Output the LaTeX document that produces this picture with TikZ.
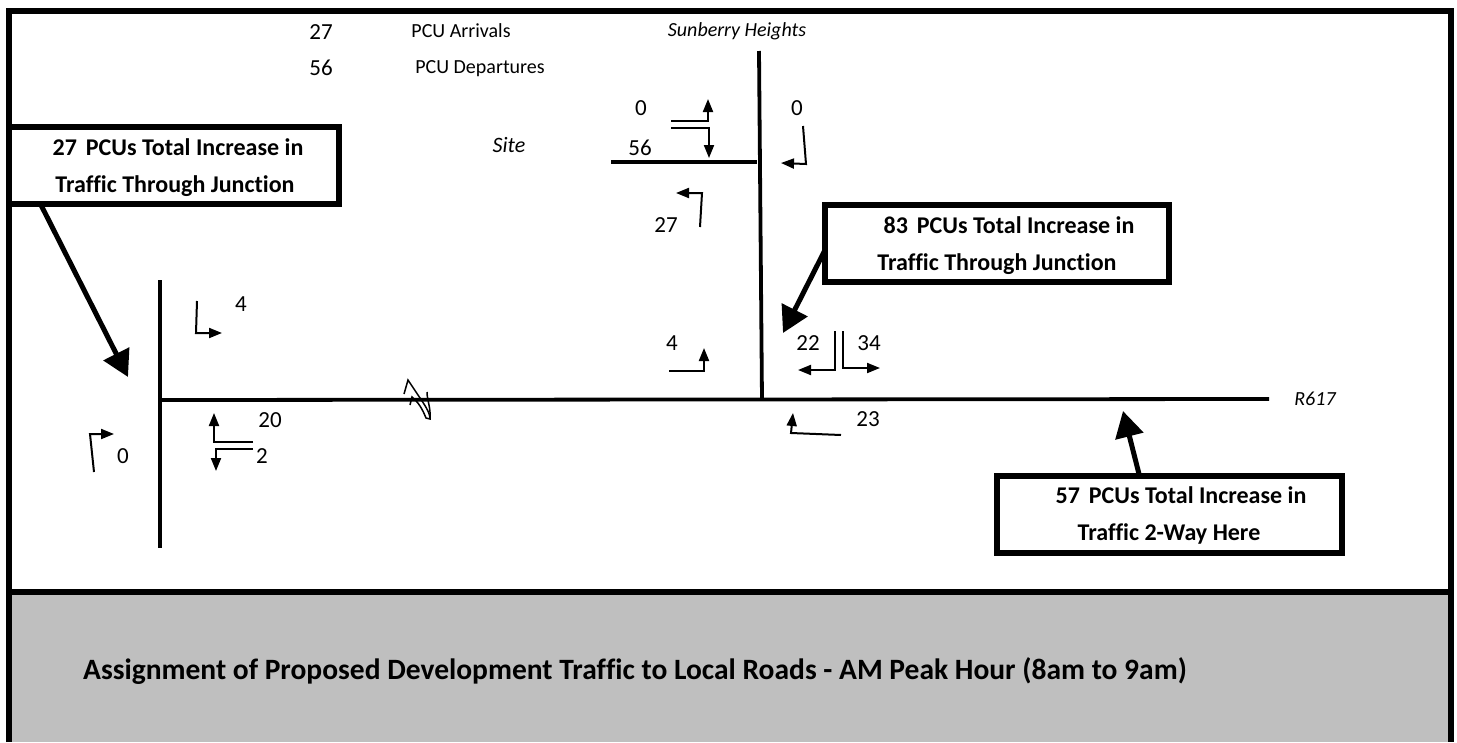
\documentclass[tikz,border=0pt]{standalone}
\usepackage{fontspec}
\setmainfont[RawFeature={-liga;-clig;-dlig}]{Carlito}
\usetikzlibrary{arrows.meta}
\definecolor{panel}{RGB}{191,191,191}
\newcommand{\gp}{\hskip 9pt\relax}
\tikzset{
  x=1pt,y=-1pt,
  road/.style={line width=3.8pt,line cap=butt},
  tick/.style={line width=2pt,-{Triangle[length=13pt,width=10pt]}},
  callout/.style={line width=5pt,-{Triangle[length=26pt,width=28pt]}},
  lab/.style={font=\fontsize{20}{22}\selectfont,inner sep=0pt},
  num/.style={font=\fontsize{23}{25}\selectfont,inner sep=0pt},
  ital/.style={lab,font=\fontsize{20}{22}\itshape\selectfont},
  boxtxt/.style={inner sep=0pt,font=\fontsize{24}{26}\bfseries\selectfont,anchor=center},
  boxs/.style={draw,line width=6pt,fill=white},
}
\begin{document}
\begin{tikzpicture}
\useasboundingbox (0,0) rectangle (1457,742);
\fill[white] (0,0) rectangle (1457,742);
\fill[panel] (9,592) rectangle (1451,742);
\draw[line width=6pt] (9,592) -- (1451,592);
\draw[line width=6pt] (9,742) -- (9,11) -- (1451,11) -- (1451,742);
\node[boxtxt,font=\fontsize{29.5}{32}\bfseries\selectfont] (title) at (635,671) {Assignment of Proposed Development Traffic to Local Roads - AM Peak Hour (8am to 9am)};
% legend
\node[num] (l1) at (321,32) {27};
\node[lab] (l2) at (461,31) {PCU Arrivals};
\node[ital] (sh) at (737,31) {Sunberry Heights};
\node[num] (l3) at (321,68) {56};
\node[lab] (l4) at (480,69) {PCU Departures};
\node[ital,font=\fontsize{22}{24}\itshape\selectfont] (site) at (509,145) {Site};
\node[ital] (r) at (1315,399) {R617};
% roads
\draw[road] (759,51) -- (762,400);
\draw[road] (611,162) -- (757,162);
\draw[road] (159,400) -- (1269,399);
\draw[road] (160,280) -- (160,548);
% squiggle
\draw[line width=1.5pt] (404,394) -- (408,380) -- (418,395) .. controls (424,404) and (430,412) .. (430,419) -- (426,418) .. controls (422,408) and (418,402) .. (412,397) -- (410,405);
\draw[line width=1.5pt] (427,392) .. controls (427,400) and (431,408) .. (430,419);
% top junction arrows
\node[num] (n0a) at (641,108) {0};
\node[num] (n56) at (640,148) {56};
\coordinate (a1) at (671,121); \coordinate (a1b) at (708,121); \coordinate (a1t) at (708,99);
\draw[tick] (a1) -- (a1b) -- (a1t);
\coordinate (a2) at (671,128); \coordinate (a2b) at (709,128); \coordinate (a2t) at (709,158);
\draw[tick] (a2) -- (a2b) -- (a2t);
\node[num] (n0b) at (797,108) {0};
\coordinate (a3) at (803,126); \coordinate (a3b) at (806,164); \coordinate (a3t) at (781,163);
\draw[tick] (a3) -- (a3b) -- (a3t);
\node[num] (n27) at (666,225) {27};
\coordinate (a4) at (700,227); \coordinate (a4b) at (702,193); \coordinate (a4t) at (676,193);
\draw[tick] (a4) -- (a4b) -- (a4t);
% lower junction
\node[num] (n4c) at (672,343) {4};
\coordinate (a5) at (669,371); \coordinate (a5b) at (704,371); \coordinate (a5t) at (704,348);
\draw[tick] (a5) -- (a5b) -- (a5t);
\node[num] (n22) at (808,343) {22};
\coordinate (a6) at (835,331); \coordinate (a6b) at (835,370); \coordinate (a6t) at (798,370);
\draw[tick] (a6) -- (a6b) -- (a6t);
\node[num] (n34) at (869,343) {34};
\coordinate (a7) at (843,331); \coordinate (a7b) at (843,368); \coordinate (a7t) at (880,368);
\draw[tick] (a7) -- (a7b) -- (a7t);
\node[num] (n23) at (868,419) {23};
\coordinate (a8) at (841,435); \coordinate (a8b) at (791,433); \coordinate (a8t) at (793,413);
\draw[tick] (a8) -- (a8b) -- (a8t);
% left junction
\node[num] (n4a) at (241,304) {4};
\coordinate (a9) at (197,301); \coordinate (a9b) at (196,333); \coordinate (a9t) at (222,333);
\draw[tick] (a9) -- (a9b) -- (a9t);
\node[num] (n0c) at (123,456) {0};
\coordinate (a10) at (94,472); \coordinate (a10b) at (90,434); \coordinate (a10t) at (114,434);
\draw[tick] (a10) -- (a10b) -- (a10t);
\node[num] (n20) at (270,420) {20};
\coordinate (a11) at (253,442); \coordinate (a11b) at (214,442); \coordinate (a11t) at (214,413);
\draw[tick] (a11) -- (a11b) -- (a11t);
\node[num] (n2) at (262,456) {2};
\coordinate (a12) at (253,449); \coordinate (a12b) at (216,449); \coordinate (a12t) at (216,471);
\draw[tick] (a12) -- (a12b) -- (a12t);
% callouts
\coordinate (c1) at (128,377); \coordinate (c1s) at (40,203);
\draw[callout] (c1s) -- (c1);
\coordinate (c2) at (783,333); \coordinate (c2s) at (825,250);
\draw[callout] (c2s) -- (c2);
\coordinate (c3) at (1123,411); \coordinate (c3s) at (1139,474);
\draw[callout] (c3s) -- (c3);
\path[boxs] (9,127) rectangle (339,204);
\path[boxs] (825,205) rectangle (1169,282);
\path[boxs] (997,476) rectangle (1342,553);
\node[boxtxt] (b1a) at (178,147) {27\gp PCUs Total Increase in};
\node[boxtxt] (b1b) at (175,186) {Traffic Through Junction};
\node[boxtxt] (b2a) at (1009,225) {83\gp PCUs Total Increase in};
\node[boxtxt] (b2b) at (997,264) {Traffic Through Junction};
\node[boxtxt] (b3a) at (1181,495) {57\gp PCUs Total Increase in};
\node[boxtxt] (b3b) at (1169,534) {Traffic 2-Way Here};
\end{tikzpicture}
\end{document}
